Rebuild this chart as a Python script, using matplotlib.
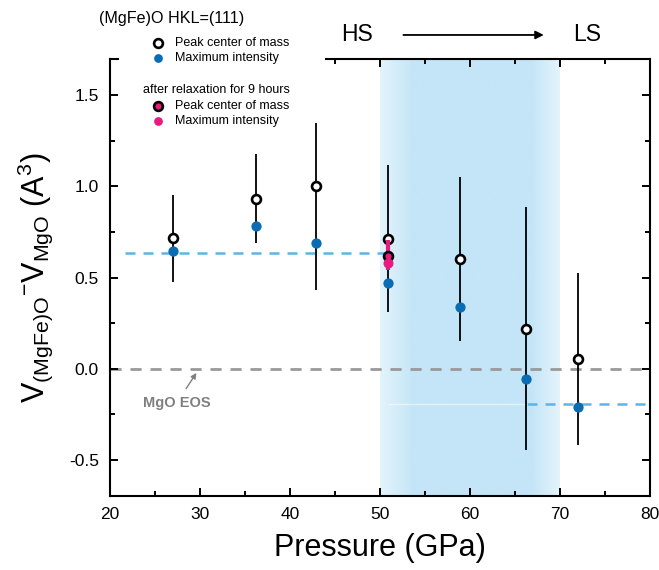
import numpy as np
import matplotlib.pyplot as plt
from matplotlib.lines import Line2D
from matplotlib.patches import Rectangle
from matplotlib.transforms import blended_transform_factory

plt.rcParams['font.family'] = ['Liberation Sans', 'DejaVu Sans']
plt.rcParams['mathtext.default'] = 'regular'

# (MgFe)O 111 volume difference vs pressure
pressure = [27.0, 36.2, 42.9, 50.9, 58.9, 66.2, 72.0]
center_mass = [0.716, 0.933, 1.004, 0.712, 0.599, 0.219, 0.055]
max_intensity = [0.648, 0.783, 0.688, 0.471, 0.336, -0.056, -0.210]
err_low = [0.478, 0.692, 0.429, 0.308, 0.150, -0.447, -0.422]
err_high = [0.953, 1.177, 1.350, 1.117, 1.050, 0.889, 0.527]

# after relaxation for 9 hours
relax_pressure = [50.9]
relax_center_mass = [0.619]
relax_max_intensity = [0.579]
relax_err_low = [0.540]
relax_err_high = [0.705]

hs_level, hs_span = 0.635, [21.7, 50.5]
ls_level, ls_span = -0.196, [66.3, 80.0]
ls_faint_span = [51.0, 66.3]
crossover = [50.0, 70.0]

BLUE = '#0a6db3'
PINK = '#ea1a80'
LIGHTBLUE = '#5cb5e6'
GREY = '#999999'

fig = plt.figure(figsize=(6.59, 5.70), dpi=100)
ax = fig.add_axes([110 / 659, 1 - 496 / 570, 540 / 659, 437 / 570])

# spin crossover band with soft edges
xs = np.linspace(crossover[0], crossover[1], 500)
w = np.interp(xs, [50, 53.7, 66.8, 70], [0, 1, 1, 0])
edge = np.array([228, 244, 252]) / 255
core = np.array([196, 229, 247]) / 255
band = edge[None, :] + w[:, None] * (core - edge)[None, :]
ax.imshow(band[None, :, :], extent=[crossover[0], crossover[1], -0.7, 1.7],
          aspect='auto', zorder=0, interpolation='bilinear')

ax.axhline(0, color=GREY, lw=2, dashes=(4, 3.2), zorder=1)
ax.plot(hs_span, [hs_level] * 2, color=LIGHTBLUE, lw=1.8, dashes=(4, 3.2), zorder=1)
ax.plot(ls_span, [ls_level] * 2, color=LIGHTBLUE, lw=1.8, dashes=(4, 3.2), zorder=1)
ax.plot(ls_faint_span, [ls_level] * 2, color='white', lw=1, alpha=0.5, zorder=1)

p = np.array(pressure)
cm = np.array(center_mass)
ax.vlines(p, err_low, err_high, color='black', lw=1.3, zorder=2)
ax.plot(p, max_intensity, 'o', color=BLUE, ms=7.4, mec='none', zorder=3)
ax.plot(p, cm, 'o', mfc='white', mec='black', mew=1.9, ms=6.4, zorder=4)

ax.vlines(relax_pressure, relax_err_low, relax_err_high, color=PINK, lw=3, zorder=5)
ax.plot(relax_pressure, relax_center_mass, 'o', mfc=PINK, mec='black', mew=1.9, ms=6.4, zorder=5)
ax.plot(relax_pressure, relax_max_intensity, 'o', color=PINK, ms=7.2, mec='none', zorder=6)

ax.annotate('MgO EOS', xy=(29.6, -0.024), xytext=(27.4, -0.19),
            ha='center', va='center', fontsize=10.5, fontweight='bold', color='#808080',
            arrowprops=dict(arrowstyle='-|>', color='#808080', lw=1, mutation_scale=8,
                            shrinkA=4, shrinkB=0))

ax.set_xlim(20, 80)
ax.set_ylim(-0.7, 1.7)
ax.set_xticks(np.arange(20, 81, 10))
ax.set_xticks(np.arange(25, 80, 10), minor=True)
ax.set_yticks([-0.5, 0.0, 0.5, 1.0, 1.5])
ax.set_yticks([-0.25, 0.25, 0.75, 1.25], minor=True)
ax.set_yticklabels(['-0.5', '0.0', '0.5', '1.0', '1.5'])
ax.tick_params(which='both', direction='in', top=True, right=True, width=1.4,
               labelsize=12.5)
ax.tick_params(which='major', length=6, pad=8)
ax.tick_params(which='minor', length=3.5)
for s in ax.spines.values():
    s.set_linewidth(1.5)

ax.set_xlabel('Pressure (GPa)', fontsize=22, labelpad=8)
ax.set_ylabel(r'$V_{(MgFe)O}{}^{-}V_{MgO}$ (A$^{3}$)', fontsize=22, labelpad=10)

# spin state arrow above the frame
trans = blended_transform_factory(ax.transData, ax.transAxes)
ax.text(47.4, 1.055, 'HS', transform=trans, ha='center', va='center', fontsize=16.5)
ax.text(73.0, 1.055, 'LS', transform=trans, ha='center', va='center', fontsize=16.5)
ax.annotate('', xy=(68.2, 1.055), xytext=(52.6, 1.055), xycoords=trans,
            annotation_clip=False,
            arrowprops=dict(arrowstyle='-|>', color='black', lw=1.3, mutation_scale=12,
                            shrinkA=0, shrinkB=0))

# key in the upper left corner
def fx(px):
    return px / 659

def fy(py):
    return 1 - py / 570

fig.add_artist(Rectangle((fx(119), fy(67)), 206 / 659, 14 / 570, transform=fig.transFigure,
                         facecolor='white', edgecolor='none', zorder=5))
fig.text(fx(99), fy(18), '(MgFe)O HKL=(111)', fontsize=11.6, va='center', zorder=6)
fig.text(fx(143), fy(90), 'after relaxation for 9 hours', fontsize=9, va='center', zorder=6)
key = [
    (42.7, dict(mfc='white', mec='black', mew=1.9), 'Peak center of mass'),
    (58.3, dict(mfc=BLUE, mec='none'), 'Maximum intensity'),
    (106.0, dict(mfc=PINK, mec='black', mew=1.9), 'Peak center of mass'),
    (120.7, dict(mfc=PINK, mec='none'), 'Maximum intensity'),
]
for py, style, label in key:
    fig.add_artist(Line2D([fx(158)], [fy(py)], marker='o', ms=6.3, ls='none',
                          transform=fig.transFigure, zorder=6, **style))
    fig.text(fx(175), fy(py), label, fontsize=9, va='center', zorder=6)

fig.savefig('out.png', dpi=100)
